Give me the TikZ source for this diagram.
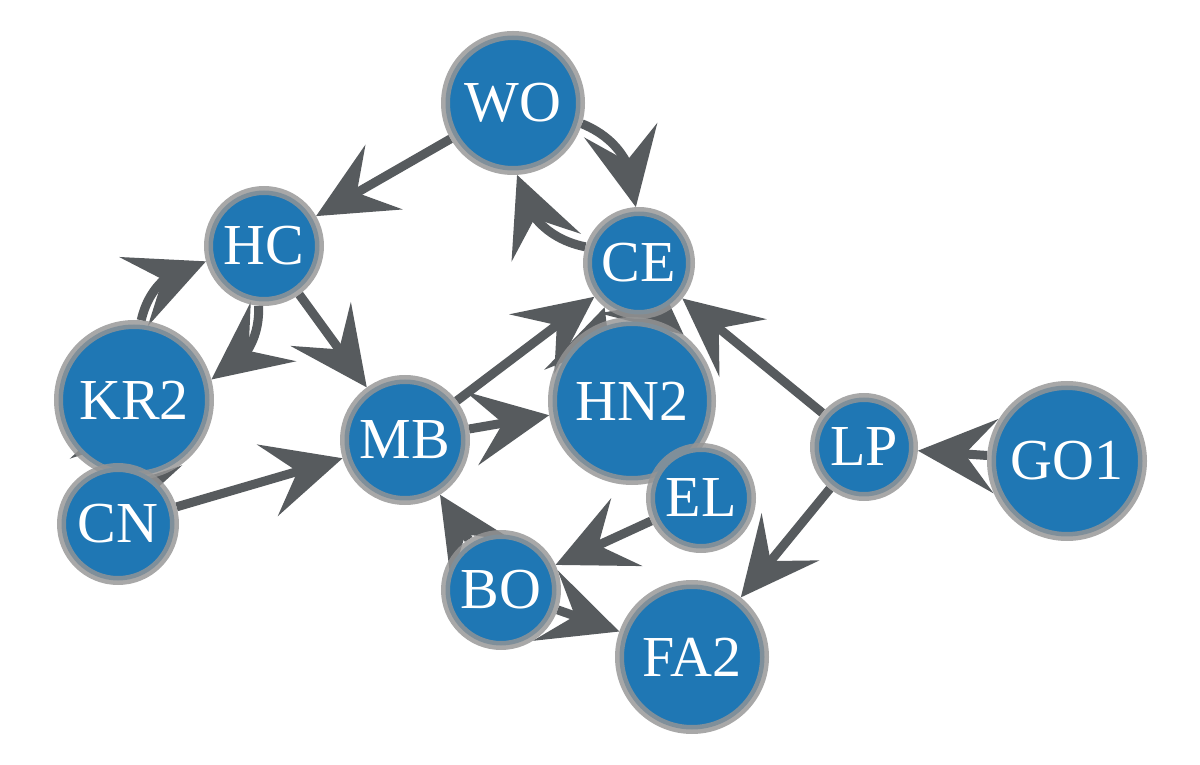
\documentclass[tikz,border=0pt]{standalone}
\usepackage{fontspec}
\setmainfont{Liberation Serif}
\newfontfamily\labfont{Liberation Serif}
\usetikzlibrary{arrows.meta,bending}
\definecolor{nodeblue}{HTML}{1F77B4}
\definecolor{ringgray}{HTML}{959595}
\definecolor{edgegray}{RGB}{87,91,94}
\pgfdeclarelayer{bg}
\pgfsetlayers{bg,main}
\begin{document}
\begin{tikzpicture}[x=1pt,y=1pt,
  vert/.style={circle, fill=nodeblue, draw=ringgray, draw opacity=0.82, line width=9pt,
    text=white, inner sep=0pt, font=\labfont\fontsize{58}{58}\selectfont},
  edge/.style={draw=edgegray, line width=9pt,
    -{Stealth[length=78pt,width=74pt,inset=31pt,flex]}},
  bendy/.style={edge, bend left=35},
]
\useasboundingbox (0,0) rectangle (1200,764);
\node[vert, minimum size=135pt] (WO)  at (513,661) {WO};
\node[vert, minimum size=111pt] (HC)  at (264,518) {HC};
\node[vert, minimum size=151pt] (KR2) at (134,364) {KR2};
\node[vert, minimum size=113pt] (CN)  at (118,240) {CN};
\node[vert, minimum size=121pt] (MB)  at (405,324) {MB};
\node[vert, minimum size=159pt] (HN2) at (632,363) {HN2};
\node[vert, minimum size=101pt] (EL)  at (701,266) {EL};
\node[vert, minimum size=103pt] (CE)  at (639,501) {CE};
\node[vert, minimum size=99pt]  (LP)  at (864,317) {LP};
\node[vert, minimum size=151pt] (GO1) at (1067,303) {GO1};
\node[vert, minimum size=111pt] (BO)  at (501,174) {BO};
\node[vert, minimum size=145pt] (FA2) at (692,107) {FA2};
\begin{pgfonlayer}{bg}
\draw[edge] (WO) -- (HC);
\draw[bendy] (WO) to (CE);
\draw[bendy] (CE) to (WO);
\draw[bendy] (KR2) to (HC);
\draw[bendy] (HC) to (KR2);
\draw[edge] (HC) -- (MB);
\draw[edge, bend left=20] (KR2.center) to (CN.center);
\draw[edge, bend left=20] (CN.center) to (KR2.center);
\draw[edge] (CN) -- (MB);
\draw[edge] (MB) -- (CE);
\draw[edge] (MB) -- (HN2);
\draw[bendy] (HN2) to (CE);
\draw[bendy] (CE) to (HN2);
\draw[edge] (LP) -- (CE);
\draw[edge] (LP) -- (FA2);
\draw[edge] (GO1) -- (LP);
\draw[edge] (EL) -- (BO);
\draw[edge] (BO) -- (MB);
\draw[edge] (BO) -- (FA2);
\end{pgfonlayer}
\end{tikzpicture}
\end{document}
